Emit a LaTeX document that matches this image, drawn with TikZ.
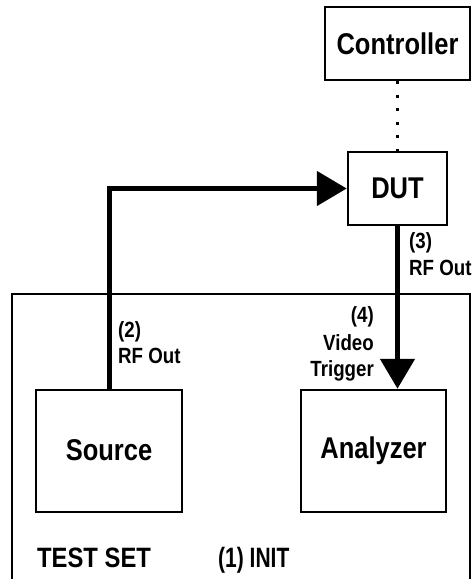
\documentclass[tikz,border=0pt]{standalone}
\usepackage{fontspec}
\setmainfont{Liberation Sans}[FakeStretch=0.85]
\newfontfamily\narrowfont{Liberation Sans}[FakeStretch=0.75]
\usetikzlibrary{arrows.meta}
\begin{document}
\begin{tikzpicture}[x=1pt,y=-1pt,
  box/.style={draw, line width=2.5pt, rectangle, inner sep=0pt, font=\fontsize{30}{32}\selectfont\bfseries},
  lbl/.style={inner sep=0pt, font=\fontsize{22}{24}\selectfont\bfseries},
  big/.style={inner sep=0pt, font=\fontsize{28}{30}\selectfont\bfseries},
  conn/.style={line width=5pt},
  tip/.style={-{Triangle[length=30pt,width=34pt]}}]
\useasboundingbox (0,0) rectangle (475,579);
\draw[line width=2.5pt] (12,620) -- (12,294) -- (470,294) -- (470,620);
\node[box, minimum width=145pt, minimum height=73pt] (ctrl) at (397.5,43.5) {Controller};
\node[box, minimum width=99pt, minimum height=73pt] (dut) at (397.5,188.5) {DUT};
\node[box, minimum width=146pt, minimum height=122pt] (src) at (109,451) {\raisebox{2pt}{Source}};
\node[box, minimum width=145pt, minimum height=122pt] (ana) at (373.5,451) {\raisebox{4pt}{Analyzer}};
\draw[line width=3pt, dash pattern=on 3pt off 10.5pt] (ctrl.south) -- (dut.north);
\draw[conn, tip] (src.north) |- (dut.west);
\draw[conn, tip] (dut.south) -- (dut.south |- ana.north);
\node[lbl, anchor=base west] (l2a) at (118,337) {(2)};
\node[lbl, anchor=base west] (l2b) at (118,363) {RF Out};
\node[lbl, anchor=base west] (l3a) at (409,248) {(3)};
\node[lbl, anchor=base west] (l3b) at (409,275) {RF Out};
\node[lbl, anchor=base east] (l4a) at (374,322) {(4)};
\node[lbl, anchor=base east] (l4b) at (374,350) {Video};
\node[lbl, anchor=base east] (l4c) at (374,376) {Trigger};
\node[big, anchor=base west] (ts) at (37,567) {TEST SET};
\node[big, anchor=base west, font=\fontsize{28}{30}\selectfont\narrowfont\bfseries] (init) at (218,567) {(1) INIT};
\end{tikzpicture}
\end{document}
